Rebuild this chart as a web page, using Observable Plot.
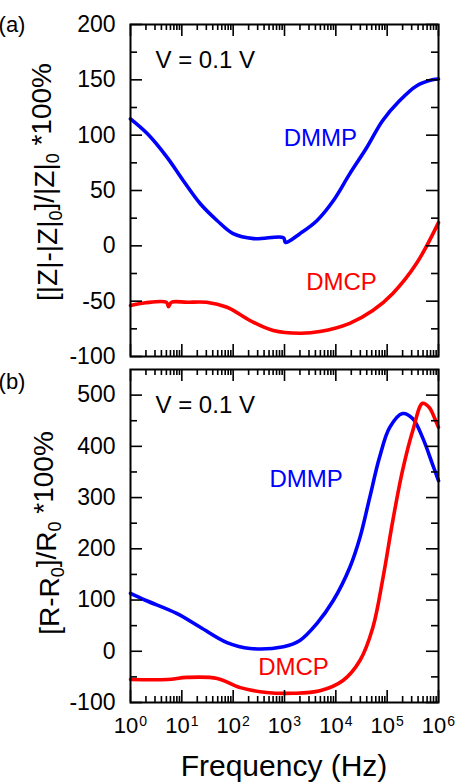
<!DOCTYPE html>
<html>
<head>
<meta charset="utf-8">
<script src="https://cdn.jsdelivr.net/npm/d3@7"></script>
<script src="https://cdn.jsdelivr.net/npm/@observablehq/plot@0.6"></script>
<style>
  body { margin: 0; background: white; }
  #chart svg { display: block; }
</style>
</head>
<body>
<div id="chart"></div>
<script>
// ---- Data ----
// Panel (a): [|Z|-|Z|0]/|Z|0 *100%
const aDmmpFreq = [1, 2.14, 5.25, 10.7, 22.9, 49, 100, 251, 955, 1047, 1995, 4266, 8913, 18620, 39810, 81280, 173800, 371500, 758600, 1000000];
const aDmmpVal  = [114.7, 101.2, 79.5, 58.8, 38, 22.7, 11, 6.5, 7.4, 3, 11, 22.7, 40.7, 65, 88.6, 113, 131, 144.5, 150, 150.8];
const aDmcpFreq = [1, 1.95, 5, 5.5, 6.3, 12.6, 30.2, 75.9, 214, 603, 1995, 4898, 18620, 52480, 128800, 371500, 1000000];
const aDmcpVal  = [-54, -51.5, -51, -55, -51, -51, -51, -55.5, -67.5, -76.5, -79, -77.5, -70, -58.5, -43, -16, 21];

// Panel (b): [R-R0]/R0 *100%
const bDmmpFreq = [1, 1.95, 7.9, 22.9, 75.9, 214, 955, 1995, 4266, 8913, 18620, 29500, 45700, 70800, 112200, 199500, 316200, 489800, 758600, 1000000];
const bDmmpVal  = [113, 99.6, 74, 47, 17, 5.4, 9, 21, 54, 99, 163, 222, 300, 378, 437, 464, 454, 417, 366, 333];
const bDmcpFreq = [1, 5.25, 12.6, 49, 138, 447, 1479, 4898, 13800, 29500, 52480, 83180, 128800, 199500, 316200, 489800, 660700, 831800, 1000000];
const bDmcpVal  = [-55, -55, -51, -53, -71, -80.5, -82, -77, -57, -18, 46, 144, 255, 353, 431, 484, 476, 456, 437];

// Axis ticks and labels
const xMajorTicks = [1, 10, 100, 1000, 10000, 100000, 1000000];
const xMinorTicks = [2,3,4,5,6,7,8,9, 20,30,40,50,60,70,80,90, 200,300,400,500,600,700,800,900,
  2000,3000,4000,5000,6000,7000,8000,9000, 20000,30000,40000,50000,60000,70000,80000,90000,
  200000,300000,400000,500000,600000,700000,800000,900000];
const xTickExponents = ["0", "1", "2", "3", "4", "5", "6"];
const aYMajor = [-100, -50, 0, 50, 100, 150, 200];
const aYMinor = [-75, -25, 25, 75, 125, 175];
const bYMajor = [-100, 0, 100, 200, 300, 400, 500];
const bYMinor = [-50, 50, 150, 250, 350, 450];
const aDomain = [-100, 200];
const bDomain = [-100, 550];
const xDomain = [1, 1000000];

const seriesNames = ["DMMP", "DMCP"];
const seriesColors = ["#0000ff", "#ff0000"];
const voltageText = "V = 0.1 V";
const xTitle = "Frequency (Hz)";

// Annotation anchors (data coordinates)
const aLabelFreq = [5012, 12900];
const aLabelVal = [97, -33];
const bLabelFreq = [2630, 1496];
const bLabelVal = [336, -31];
const aVoltPos = {f: 3.07, v: 168};
const bVoltPos = {f: 3.07, v: 480};

const FONT = "'Liberation Sans', Arial, Helvetica, sans-serif";
const W = 457, ML = 130, MR = 19;
const FRAME_W = W - ML - MR;

function toRows(freq, val, name) { return freq.map((f, i) => ({f, v: val[i], name})); }

// Inward ticks on all four sides, drawn as short rules inset from the frame
function tickMarks(frameH, yMajor, yMinor, showXLabels) {
  const sw = 1.6, XMAJ = 12, XMIN = 6, YMAJ = 12, YMIN = 7;
  const m = [
    Plot.ruleX(xMajorTicks, {x: d => d, insetTop: frameH - XMAJ, strokeWidth: sw, stroke: "black"}),
    Plot.ruleX(xMajorTicks, {x: d => d, insetBottom: frameH - XMAJ, strokeWidth: sw, stroke: "black"}),
    Plot.ruleX(xMinorTicks, {x: d => d, insetTop: frameH - XMIN, strokeWidth: sw, stroke: "black"}),
    Plot.ruleX(xMinorTicks, {x: d => d, insetBottom: frameH - XMIN, strokeWidth: sw, stroke: "black"}),
    Plot.ruleY(yMajor, {y: d => d, insetRight: FRAME_W - YMAJ, strokeWidth: sw, stroke: "black"}),
    Plot.ruleY(yMajor, {y: d => d, insetLeft: FRAME_W - YMAJ, strokeWidth: sw, stroke: "black"}),
    Plot.ruleY(yMinor, {y: d => d, insetRight: FRAME_W - YMIN, strokeWidth: sw, stroke: "black"}),
    Plot.ruleY(yMinor, {y: d => d, insetLeft: FRAME_W - YMIN, strokeWidth: sw, stroke: "black"}),
    Plot.axisY(yMajor, {anchor: "left", tickSize: 0, tickPadding: 15, label: null, fontSize: 23,
      tickFormat: d => String(d)})
  ];
  if (showXLabels) {
    m.push(Plot.axisX(xMajorTicks, {anchor: "bottom", tickSize: 0, tickPadding: 15, label: null, fontSize: 22,
      tickFormat: d => xTickExponents[xMajorTicks.indexOf(d)]}));
  } else {
    m.push(Plot.axisX([], {anchor: "bottom", tickSize: 0, label: null}));
  }
  return m;
}

function makePanel({height, marginTop, marginBottom, domain, yMajor, yMinor, dmmp, dmcp, labelFreq, labelVal, voltPos, showXLabels}) {
  const rows = [...dmmp, ...dmcp];
  const labels = seriesNames.map((name, i) => ({name, f: labelFreq[i], v: labelVal[i]}));
  const frameH = height - marginTop - marginBottom;
  return Plot.plot({
    width: W,
    height,
    marginLeft: ML,
    marginRight: MR,
    marginTop,
    marginBottom,
    style: {fontFamily: FONT, fontSize: "23px", background: "white", color: "black", overflow: "visible"},
    x: {type: "log", domain: xDomain},
    y: {domain},
    color: {domain: seriesNames, range: seriesColors},
    marks: [
      Plot.line(rows, {x: "f", y: "v", z: "name", stroke: "name", strokeWidth: 3.6, curve: "catmull-rom"}),
      Plot.text(labels, {x: "f", y: "v", text: "name", fill: "name", fontSize: 24}),
      Plot.text([voltageText], {x: () => voltPos.f, y: () => voltPos.v, text: d => d, textAnchor: "start", fontSize: 24, fill: "black"}),
      ...tickMarks(frameH, yMajor, yMinor, showXLabels),
      Plot.frame({stroke: "black", strokeWidth: 2})
    ]
  });
}

const svgA = makePanel({
  height: 362, marginTop: 24, marginBottom: 6, domain: aDomain, yMajor: aYMajor, yMinor: aYMinor,
  dmmp: toRows(aDmmpFreq, aDmmpVal, "DMMP"), dmcp: toRows(aDmcpFreq, aDmcpVal, "DMCP"),
  labelFreq: aLabelFreq, labelVal: aLabelVal, voltPos: aVoltPos, showXLabels: false
});
const svgB = makePanel({
  height: 422, marginTop: 7, marginBottom: 82, domain: bDomain, yMajor: bYMajor, yMinor: bYMinor,
  dmmp: toRows(bDmmpFreq, bDmmpVal, "DMMP"), dmcp: toRows(bDmcpFreq, bDmcpVal, "DMCP"),
  labelFreq: bLabelFreq, labelVal: bLabelVal, voltPos: bVoltPos, showXLabels: true
});

const chart = document.getElementById("chart");
chart.appendChild(svgA);
chart.appendChild(svgB);

// Superscript exponents on x tick labels (10^n)
d3.select(svgB).selectAll('g[aria-label="x-axis tick label"] text').each(function() {
  const e = this.textContent;
  const t = d3.select(this);
  t.text("10");
  t.append("tspan").attr("dy", "-0.5em").attr("dx", "1").attr("font-size", "14px").text(e);
});

// Panel letters
d3.select(svgA).append("text").attr("x", 12).attr("y", 32).attr("font-size", 22).attr("font-family", FONT).text("(a)");
d3.select(svgB).append("text").attr("x", 12).attr("y", 27).attr("font-size", 22).attr("font-family", FONT).text("(b)");

// Y titles with subscripts
function yTitle(svg, x, y, parts) {
  const t = d3.select(svg).append("text")
    .attr("transform", `translate(${x},${y}) rotate(-90)`)
    .attr("text-anchor", "middle")
    .attr("font-size", 28)
    .attr("font-family", FONT);
  let shifted = false;
  for (const [txt, sub] of parts) {
    const s = t.append("tspan").text(txt);
    if (sub && !shifted) { s.attr("dy", "0.3em").attr("font-size", 18); shifted = true; }
    else if (!sub && shifted) { s.attr("dy", "-0.3em"); shifted = false; }
  }
}
yTitle(svgA, 57, 182, [["[|Z|-|Z|", false], ["0", true], ["]/|Z|", false], ["0", true], [" *100%", false]]);
yTitle(svgB, 59, 171, [["[R-R", false], ["0", true], ["]/R", false], ["0", true], [" *100%", false]]);

// X title
d3.select(svgB).append("text").attr("x", 284).attr("y", 414).attr("text-anchor", "middle")
  .attr("font-size", 30).attr("font-family", FONT).text(xTitle);
</script>
</body>
</html>
